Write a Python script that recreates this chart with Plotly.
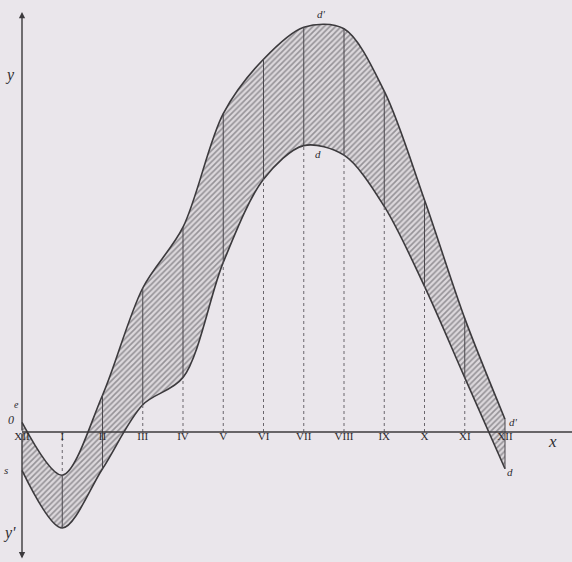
import plotly.graph_objects as go

# Months (0 = December of previous year, 12 = December)
months = list(range(13))
month_labels = ["XII", "I", "II", "III", "IV", "V", "VI", "VII", "VIII", "IX", "X", "XI", "XII"]

# Upper (outer) curve d' and lower (inner) curve d
upper = [0.6, -2.7, 2.3, 9.0, 12.8, 19.9, 23.3, 25.3, 25.2, 21.3, 14.5, 7.1, 0.8]
lower = [-2.4, -6.0, -2.3, 1.7, 3.4, 10.6, 15.8, 17.9, 17.3, 14.1, 9.1, 3.4, -2.3]

PAPER = "#eae6eb"
INK = "#3c3a3d"

fig = go.Figure()

# band: lower curve then upper curve filled to it with hatching
fig.add_trace(go.Scatter(x=months, y=lower, mode="lines",
                         line=dict(color=INK, width=1.6, shape="spline", smoothing=0.9),
                         hoverinfo="skip", showlegend=False))
fig.add_trace(go.Scatter(x=months, y=upper, mode="lines", fill="tonexty",
                         fillcolor="#cfcbd0",
                         fillpattern=dict(shape="/", fgcolor="#4e4b51", bgcolor="#dcd8dc",
                                          size=4, solidity=0.4),
                         line=dict(color=INK, width=1.6, shape="spline", smoothing=0.9),
                         hoverinfo="skip", showlegend=False))

# vertical month lines: dotted from axis to the band, solid inside the band
dot_x, dot_y, sol_x, sol_y = [], [], [], []
for m in months[1:]:
    u, l = upper[m], lower[m]
    if m < 12:
        if l > 0:
            dot_x += [m, m, None]; dot_y += [0, l, None]
        elif u < 0:
            dot_x += [m, m, None]; dot_y += [0, u, None]
    sol_x += [m, m, None]; sol_y += [l, u, None]

fig.add_trace(go.Scatter(x=dot_x, y=dot_y, mode="lines",
                         line=dict(color="#6a666c", width=1, dash="dot"),
                         hoverinfo="skip", showlegend=False))
fig.add_trace(go.Scatter(x=sol_x, y=sol_y, mode="lines",
                         line=dict(color="#4a474c", width=1),
                         hoverinfo="skip", showlegend=False))

# month labels under the x axis
fig.add_trace(go.Scatter(x=months, y=[0] * len(months), mode="text", text=month_labels,
                         textposition="bottom center",
                         textfont=dict(family="Liberation Serif", size=11, color="#2a282c"),
                         hoverinfo="skip", showlegend=False))

# x axis line
fig.add_shape(type="line", xref="x", yref="y", x0=0, x1=14, y0=0, y1=0,
              line=dict(color=INK, width=1.4))

# y axis with arrows at both ends
for tip in (26.25, -7.9):
    fig.add_annotation(x=0, y=tip, ax=0, ay=0, xref="x", yref="y", axref="x", ayref="y",
                       text="", showarrow=True, arrowhead=2, arrowsize=0.9,
                       arrowwidth=1.4, arrowcolor=INK)

lab = dict(family="Liberation Serif", color="#2e2c30")
labels = [
    ("y", -0.30, 22.3, 16), ("y'", -0.30, -6.3, 16), ("x", 13.19, -0.6, 17),
    ("0", -0.27, 0.75, 12), ("e", -0.14, 1.7, 10), ("s", -0.40, -2.4, 11),
    ("d'", 7.43, 26.1, 11), ("d", 7.35, 17.4, 11),
    ("d'", 12.2, 0.6, 11), ("d", 12.12, -2.5, 11),
]
for t, x, y, s in labels:
    fig.add_annotation(x=x, y=y, xref="x", yref="y", text="<i>%s</i>" % t, showarrow=False,
                       font=dict(size=s, **lab))

fig.update_layout(
    width=572, height=562,
    margin=dict(l=0, r=0, t=0, b=0),
    paper_bgcolor=PAPER, plot_bgcolor=PAPER,
    xaxis=dict(range=[-22 / 40.25, 550 / 40.25], visible=False, fixedrange=True),
    yaxis=dict(range=[-130 / 16, 432 / 16], visible=False, fixedrange=True),
    showlegend=False,
)

fig.write_html("out.html", config={"displayModeBar": False},
               post_script="document.body.style.margin='0';"
                           "document.body.style.background='%s';" % PAPER)
